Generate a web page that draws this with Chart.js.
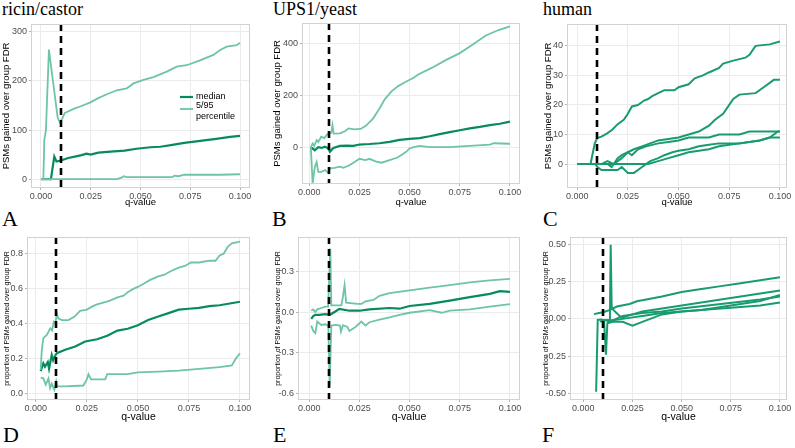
<!DOCTYPE html>
<html>
<head>
<meta charset="utf-8">
<script src="https://cdn.jsdelivr.net/npm/chart.js@4"></script>
<style>
body { margin: 0; width: 795px; height: 448px; background: #fff; position: relative; overflow: hidden; }
.ttl { position: absolute; font-family: "Liberation Serif", serif; font-size: 18px; line-height: 1; color: #000; }
.lab { position: absolute; font-family: "Liberation Serif", serif; font-size: 22px; line-height: 1; color: #000; }
</style>
</head>
<body>
<div class="ttl" style="left:2px;top:0px">ricin/castor</div>
<div class="ttl" style="left:273px;top:0px">UPS1/yeast</div>
<div class="ttl" style="left:543px;top:0px">human</div>
<div class="lab" style="left:2px;top:208px">A</div>
<div class="lab" style="left:272px;top:208px">B</div>
<div class="lab" style="left:543px;top:208px">C</div>
<div class="lab" style="left:3px;top:424px">D</div>
<div class="lab" style="left:273px;top:424px">E</div>
<div class="lab" style="left:542px;top:424px">F</div>
<script>
// q-value cutoff (dashed line) and shared x ticks
var cutoff = 0.01;
var xTicks = [0, 0.025, 0.05, 0.075, 0.1];
var xLabels = ['0.000', '0.025', '0.050', '0.075', '0.100'];
var legendLabels = ['median', '5/95', 'percentile'];

// A: ricin/castor, PSMs gained
var aQ_up = [0, 0.0012, 0.0017, 0.0025, 0.0040, 0.0084, 0.0095, 0.0105, 0.012, 0.017, 0.0197, 0.0246, 0.0288, 0.0331, 0.0381, 0.0431, 0.0465, 0.0515, 0.0565, 0.0632, 0.0682, 0.0732, 0.0799, 0.0866, 0.09, 0.0933, 0.0983, 0.1];
var aV_up = [0, 0, 80, 100, 264, 125, 116, 122, 135, 144, 148, 156, 165, 173, 181, 185, 195, 202, 208, 219, 229, 232, 242, 253, 263, 270, 273, 278];
var aQ_med = [0, 0.0050, 0.0067, 0.0078, 0.0100, 0.0137, 0.0170, 0.0204, 0.0229, 0.0250, 0.0288, 0.035, 0.042, 0.048, 0.055, 0.060, 0.066, 0.072, 0.080, 0.088, 0.095, 0.1];
var aV_med = [0, 0, 46, 36, 38, 43, 46, 49, 52, 50, 54, 56, 58, 62, 65, 66, 70, 74, 78, 82, 86, 88];
var aQ_lo = [0, 0.038, 0.0405, 0.0415, 0.043, 0.066, 0.067, 0.069, 0.072, 0.09, 0.1];
var aV_lo = [0, 0, 3, 6, 4, 4, 7, 6, 9, 9, 10];
var aTicks = [0, 100, 200, 300];
var aLabels = ['0', '100', '200', '300'];

// B: UPS1/yeast, PSMs gained
var bQ_up = [0.0008, 0.0017, 0.0025, 0.0037, 0.0045, 0.0060, 0.0075, 0.0090, 0.0100, 0.0110, 0.0116, 0.0122, 0.0153, 0.0180, 0.0195, 0.0225, 0.0256, 0.0282, 0.0318, 0.0350, 0.0377, 0.041, 0.0443, 0.0477, 0.0522, 0.0543, 0.0610, 0.0680, 0.0750, 0.0815, 0.0880, 0.0940, 0.1];
var bV_up = [0, 14, 5, 27, 20, 40, 35, 50, 53, 55, 85, 52, 53, 62, 72, 68, 70, 82, 110, 149, 185, 215, 235, 250, 268, 280, 305, 335, 362, 395, 430, 450, 465];
var bQ_med = [0.0008, 0.0028, 0.0045, 0.0062, 0.0078, 0.0095, 0.0103, 0.0120, 0.0153, 0.0186, 0.0220, 0.025, 0.030, 0.035, 0.040, 0.045, 0.050, 0.055, 0.060, 0.065, 0.070, 0.075, 0.080, 0.085, 0.090, 0.095, 0.1];
var bV_med = [0, -12, 0, -3, 2, -5, -18, -3, 5, 6, 5, 10, 12, 15, 20, 28, 32, 35, 42, 50, 58, 65, 72, 78, 85, 90, 98];
var bQ_lo = [0.0008, 0.0017, 0.0028, 0.0037, 0.0045, 0.0060, 0.0080, 0.0095, 0.0103, 0.0125, 0.0153, 0.0170, 0.0200, 0.0230, 0.0250, 0.0280, 0.0300, 0.0330, 0.0360, 0.0400, 0.0440, 0.0480, 0.0500, 0.0520, 0.0550, 0.0600, 0.0700, 0.0800, 0.0900, 0.0920, 0.1];
var bV_lo = [0, -140, -76, -57, -95, -95, -88, -100, -82, -80, -75, -80, -70, -55, -45, -50, -45, -55, -60, -50, -40, -20, -5, 0, 5, 0, 0, 5, 10, 15, 13];
var bTicks = [0, 200, 400];
var bLabels = ['0', '200', '400'];

// C: human, PSMs gained (individual runs)
var cQ1 = [0, 0.0066, 0.0087, 0.0099, 0.0120, 0.0148, 0.0173, 0.020, 0.023, 0.025, 0.027, 0.030, 0.033, 0.035, 0.037, 0.040, 0.043, 0.048, 0.050, 0.055, 0.058, 0.062, 0.065, 0.070, 0.072, 0.077, 0.083, 0.085, 0.088, 0.095, 0.1];
var cV1 = [0, 0, 7, 8.8, 9.3, 10.4, 11.6, 13.5, 15, 17, 19.5, 20, 21.5, 22, 23, 24, 25, 25, 26, 27, 29, 30, 31, 32.5, 34, 35, 36, 37, 40, 40.5, 41.5];
var cQ2 = [0, 0.015, 0.017, 0.020, 0.022, 0.025, 0.028, 0.032, 0.036, 0.040, 0.045, 0.050, 0.055, 0.060, 0.065, 0.068, 0.072, 0.077, 0.080, 0.088, 0.092, 0.097, 0.1];
var cV2 = [0, 0, -1, 2, 3, 4, 5, 6, 7, 8, 8.5, 9, 10, 11, 13, 15, 17, 22, 23.5, 24, 26, 28.5, 28.5];
var cQ3 = [0, 0.012, 0.015, 0.018, 0.022, 0.025, 0.027, 0.030, 0.034, 0.040, 0.045, 0.050, 0.055, 0.065, 0.070, 0.080, 0.085, 0.1];
var cV3 = [0, 0, 1, 0, 2, 4, 3, 5, 6, 7, 7.5, 8, 9, 9, 10, 10, 11, 11];
var cQ4 = [0, 0.009, 0.010, 0.012, 0.020, 0.022, 0.025, 0.028, 0.030, 0.032, 0.036, 0.040, 0.043, 0.047, 0.050, 0.055, 0.060, 0.065, 0.070, 0.080, 0.090, 0.095, 0.1];
var cV4 = [0, 0, -1, -2, -2, -1, -3, -3, -2, -1, 1, 2, 3, 4, 4.5, 5, 6, 6.5, 7, 7, 8, 9, 9];
var cQ5 = [0, 0.035, 0.040, 0.045, 0.050, 0.055, 0.060, 0.065, 0.070, 0.080, 0.090, 0.095, 0.099, 0.1];
var cV5 = [0, 0, 1, 2, 3, 4, 4.5, 5, 6, 7, 8, 9, 11, 11];
var cTicks = [0, 10, 20, 30, 40];
var cLabels = ['0', '10', '20', '30', '40'];

// D: ricin/castor, proportion gained
var dQ_up = [0.0024, 0.0029, 0.0037, 0.0054, 0.0071, 0.0080, 0.0088, 0.0096, 0.0103, 0.0110, 0.0127, 0.0160, 0.0190, 0.0217, 0.025, 0.028, 0.030, 0.033, 0.036, 0.040, 0.043, 0.045, 0.048, 0.050, 0.053, 0.056, 0.060, 0.063, 0.066, 0.070, 0.073, 0.076, 0.080, 0.085, 0.088, 0.090, 0.092, 0.094, 0.096, 0.1];
var dV_up = [0.134, 0.24, 0.316, 0.335, 0.373, 0.36, 0.41, 0.40, 0.46, 0.43, 0.42, 0.42, 0.44, 0.473, 0.48, 0.50, 0.51, 0.52, 0.53, 0.55, 0.56, 0.58, 0.60, 0.61, 0.63, 0.65, 0.67, 0.68, 0.70, 0.72, 0.73, 0.75, 0.75, 0.76, 0.76, 0.79, 0.80, 0.84, 0.86, 0.87];
var dQ_med = [0.0024, 0.0037, 0.0045, 0.0059, 0.0065, 0.0078, 0.0085, 0.0092, 0.0103, 0.0144, 0.0193, 0.0242, 0.030, 0.035, 0.040, 0.045, 0.050, 0.055, 0.060, 0.065, 0.070, 0.075, 0.080, 0.085, 0.090, 0.095, 0.1];
var dV_med = [0.128, 0.172, 0.153, 0.18, 0.142, 0.22, 0.19, 0.21, 0.23, 0.25, 0.268, 0.297, 0.31, 0.33, 0.36, 0.37, 0.39, 0.42, 0.44, 0.46, 0.48, 0.485, 0.49, 0.50, 0.505, 0.515, 0.525];
var dQ_lo = [0.0024, 0.0037, 0.0049, 0.0062, 0.0070, 0.0078, 0.0091, 0.0100, 0.0106, 0.0144, 0.0233, 0.0250, 0.0258, 0.0270, 0.0340, 0.0350, 0.045, 0.050, 0.060, 0.070, 0.080, 0.090, 0.096, 0.098, 0.1];
var dV_lo = [0.09, 0.086, 0.05, 0.086, 0.03, 0.055, 0.02, 0.07, 0.04, 0.04, 0.045, 0.08, 0.11, 0.08, 0.08, 0.11, 0.11, 0.12, 0.125, 0.13, 0.14, 0.15, 0.16, 0.2, 0.23];
var dTicks = [0, 0.2, 0.4, 0.6, 0.8];
var dLabels = ['0.0', '0.2', '0.4', '0.6', '0.8'];

// E: UPS1/yeast, proportion gained
var eQ_up = [0.0010, 0.0020, 0.0030, 0.0040, 0.0060, 0.0080, 0.0094, 0.0105, 0.0110, 0.0160, 0.0168, 0.0176, 0.0184, 0.0240, 0.0260, 0.0280, 0.0320, 0.0350, 0.040, 0.050, 0.060, 0.070, 0.080, 0.090, 0.1];
var eV_up = [0.01, 0.02, 0.0, 0.02, 0.03, 0.04, 0.04, 0.47, 0.05, 0.05, 0.115, 0.2, 0.07, 0.06, 0.06, 0.08, 0.09, 0.12, 0.14, 0.16, 0.18, 0.20, 0.22, 0.235, 0.245];
var eQ_med = [0.0010, 0.0020, 0.0030, 0.0050, 0.0080, 0.0103, 0.0130, 0.0150, 0.020, 0.025, 0.030, 0.040, 0.045, 0.050, 0.060, 0.070, 0.080, 0.090, 0.095, 0.1];
var eV_med = [-0.05, -0.03, -0.02, -0.02, -0.015, -0.02, 0.004, 0.024, 0.01, 0.01, 0.02, 0.03, 0.025, 0.045, 0.06, 0.085, 0.11, 0.135, 0.155, 0.15];
var eQ_lo = [0.0010, 0.0020, 0.0030, 0.0040, 0.0060, 0.0080, 0.0095, 0.0102, 0.0110, 0.0130, 0.0153, 0.0158, 0.0168, 0.0190, 0.0200, 0.0230, 0.0260, 0.0280, 0.0300, 0.0350, 0.0400, 0.0450, 0.0500, 0.0600, 0.0660, 0.0700, 0.0800, 0.0900, 0.1];
var eV_lo = [-0.10, -0.14, -0.155, -0.07, -0.095, -0.09, -0.10, -0.55, -0.10, -0.095, -0.10, -0.144, -0.097, -0.11, -0.14, -0.11, -0.07, -0.10, -0.075, -0.055, -0.04, -0.02, -0.005, 0.015, -0.005, 0.01, 0.02, 0.04, 0.058];
var eTicks = [-0.6, -0.3, 0, 0.3];
var eLabels = ['-0.6', '-0.3', '0.0', '0.3'];

// F: human, proportion gained (individual runs)
var fQ1 = [0.0054, 0.0080, 0.0100, 0.0137, 0.0170, 0.0235, 0.0276, 0.030, 0.040, 0.050, 0.060, 0.070, 0.080, 0.090, 0.1];
var fV1 = [0.032, 0.04, 0.045, 0.06, 0.083, 0.10, 0.12, 0.125, 0.15, 0.18, 0.20, 0.22, 0.24, 0.26, 0.28];
var fQ2 = [0.0065, 0.0073, 0.0090, 0.0110, 0.0135, 0.0139, 0.0144, 0.0153, 0.0161, 0.0187, 0.020, 0.025, 0.030, 0.040, 0.050, 0.060, 0.070, 0.080, 0.090, 0.1];
var fV2 = [-0.49, -0.007, -0.005, -0.01, -0.01, 0.498, 0.083, 0.06, 0.05, 0.016, 0.01, 0.03, 0.05, 0.07, 0.09, 0.11, 0.13, 0.15, 0.17, 0.19];
var fQ3 = [0.0105, 0.0115, 0.0122, 0.015, 0.020, 0.025, 0.030, 0.040, 0.050, 0.060, 0.070, 0.080, 0.090, 0.1];
var fV3 = [-0.01, -0.24, -0.03, -0.02, -0.02, -0.045, -0.02, 0.03, 0.05, 0.06, 0.08, 0.10, 0.12, 0.16];
var fQ4 = [0.0085, 0.010, 0.015, 0.020, 0.025, 0.030, 0.040, 0.050, 0.060, 0.070, 0.080, 0.090, 0.1];
var fV4 = [-0.02, -0.01, -0.01, 0.0, 0.01, 0.02, 0.04, 0.05, 0.06, 0.07, 0.08, 0.09, 0.11];
var fQ5 = [0.012, 0.015, 0.020, 0.030, 0.040, 0.050, 0.070, 0.090, 0.1];
var fV5 = [-0.02, -0.01, 0.02, 0.04, 0.05, 0.07, 0.10, 0.13, 0.15];
var fTicks = [-0.5, -0.25, 0, 0.25, 0.5];
var fLabels = ['-0.50', '-0.25', '0.00', '0.25', '0.50'];

var dark = '#078b5e';
var light = '#6dc5a3';
var mid = '#189b70';
var sans = '"Liberation Sans", Arial, sans-serif';

function line(q, v, color, w) {
    return {
        data: q.map(function (x, i) { return { x: x, y: v[i] }; }),
        borderColor: color,
        borderWidth: w,
        pointRadius: 0,
        tension: 0,
        fill: false
    };
}

// dashed cutoff line + panel border
var frame = {
    id: 'frame',
    afterDatasetsDraw: function (chart) {
        var a = chart.chartArea, ctx = chart.ctx;
        var px = Math.round(chart.scales.x.getPixelForValue(cutoff));
        ctx.save();
        ctx.strokeStyle = '#000';
        ctx.lineWidth = 2.6;
        ctx.setLineDash([7, 5]);
        ctx.beginPath();
        ctx.moveTo(px, a.top);
        ctx.lineTo(px, a.bottom);
        ctx.stroke();
        ctx.restore();
        ctx.save();
        ctx.strokeStyle = '#d2d2d2';
        ctx.lineWidth = 1;
        ctx.strokeRect(a.left + 0.5, a.top + 0.5, a.width - 1, a.height - 1);
        ctx.restore();
    }
};

// legend inside panel A
var keyA = {
    id: 'keyA',
    afterDraw: function (chart) {
        var ctx = chart.ctx;
        ctx.save();
        ctx.lineWidth = 2.2;
        ctx.strokeStyle = dark;
        ctx.beginPath(); ctx.moveTo(179, 81); ctx.lineTo(192, 81); ctx.stroke();
        ctx.lineWidth = 1.8;
        ctx.strokeStyle = light;
        ctx.beginPath(); ctx.moveTo(179, 93); ctx.lineTo(192, 93); ctx.stroke();
        ctx.fillStyle = '#000';
        ctx.font = '9px ' + sans;
        ctx.textBaseline = 'middle';
        ctx.fillText(legendLabels[0], 195, 81);
        ctx.fillText(legendLabels[1], 195, 89.5);
        ctx.fillText(legendLabels[2], 195, 101);
        ctx.restore();
    }
};

function makePanel(p) {
    var cv = document.createElement('canvas');
    cv.width = p.w;
    cv.height = p.h;
    cv.style.position = 'absolute';
    cv.style.left = p.left + 'px';
    cv.style.top = p.top + 'px';
    document.body.appendChild(cv);
    new Chart(cv.getContext('2d'), {
        type: 'line',
        data: { datasets: p.series },
        options: {
            responsive: false,
            animation: false,
            devicePixelRatio: 1,
            layout: { padding: { left: 0, top: 8, right: p.padR, bottom: 0 } },
            plugins: { legend: { display: false }, tooltip: { enabled: false } },
            scales: {
                x: {
                    type: 'linear',
                    min: p.xMin,
                    max: p.xMax,
                    afterBuildTicks: function (s) { s.ticks = xTicks.map(function (v) { return { value: v }; }); },
                    afterFit: function (s) { s.height = p.xH; },
                    ticks: {
                        callback: function (v, i) { return xLabels[i]; },
                        autoSkip: false, maxRotation: 0, padding: 1,
                        color: '#4d4d4d', font: { size: 9, family: sans }
                    },
                    grid: { color: '#ebebeb', tickColor: '#b3b3b3', tickLength: 2 },
                    border: { display: false },
                    title: { display: true, text: 'q-value', padding: 0, color: '#000', font: { size: p.xtSize, family: sans } }
                },
                y: {
                    type: 'linear',
                    min: p.yMin,
                    max: p.yMax,
                    afterBuildTicks: function (s) { s.ticks = p.yTicks.map(function (v) { return { value: v }; }); },
                    afterFit: function (s) { s.width = p.yW; },
                    ticks: {
                        callback: function (v, i) { return p.yLabels[i]; },
                        autoSkip: false, padding: 2,
                        color: '#4d4d4d', font: { size: 9, family: sans }
                    },
                    grid: { color: '#ebebeb', tickColor: '#b3b3b3', tickLength: 2 },
                    border: { display: false },
                    title: { display: true, text: p.yTitle, padding: 0, color: '#000', font: { size: p.ytSize, family: sans } }
                }
            }
        },
        plugins: [frame].concat(p.extra || [])
    });
}

var topTitle = 'PSMs gained over group FDR';
var botTitle = 'proportion of PSMs gained over group FDR';

makePanel({
    left: 1, top: 16, w: 263, h: 192, yW: 30, xH: 20, padR: 14,
    xMin: -0.005, xMax: 0.105, yMin: -18, yMax: 316,
    yTicks: aTicks, yLabels: aLabels, yTitle: topTitle, ytSize: 9.5, xtSize: 9.5,
    series: [line(aQ_lo, aV_lo, light, 1.8), line(aQ_up, aV_up, light, 1.8), line(aQ_med, aV_med, dark, 2.2)],
    extra: [keyA]
});
makePanel({
    left: 272, top: 15, w: 262, h: 193, yW: 30, xH: 24, padR: 14,
    xMin: -0.0036, xMax: 0.105, yMin: -142, yMax: 478,
    yTicks: bTicks, yLabels: bLabels, yTitle: topTitle, ytSize: 9.5, xtSize: 9.5,
    series: [line(bQ_lo, bV_lo, light, 1.8), line(bQ_up, bV_up, light, 1.8), line(bQ_med, bV_med, dark, 2.2)]
});
makePanel({
    left: 543, top: 16, w: 252, h: 192, yW: 24, xH: 20, padR: 8,
    xMin: -0.005, xMax: 0.1035, yMin: -8.1, yMax: 47.4,
    yTicks: cTicks, yLabels: cLabels, yTitle: topTitle, ytSize: 9.5, xtSize: 9.5,
    series: [line(cQ5, cV5, mid, 2), line(cQ4, cV4, mid, 2), line(cQ3, cV3, mid, 2), line(cQ2, cV2, mid, 2), line(cQ1, cV1, mid, 2)]
});
makePanel({
    left: 3, top: 229, w: 261, h: 194, yW: 24, xH: 23, padR: 14,
    xMin: -0.0043, xMax: 0.1049, yMin: -0.038, yMax: 0.896,
    yTicks: dTicks, yLabels: dLabels, yTitle: botTitle, ytSize: 7, xtSize: 10.5,
    series: [line(dQ_lo, dV_lo, light, 1.8), line(dQ_up, dV_up, light, 1.8), line(dQ_med, dV_med, dark, 2.2)]
});
makePanel({
    left: 274, top: 229, w: 260, h: 194, yW: 24, xH: 23, padR: 14,
    xMin: -0.0056, xMax: 0.105, yMin: -0.65, yMax: 0.555,
    yTicks: eTicks, yLabels: eLabels, yTitle: botTitle, ytSize: 7, xtSize: 10.5,
    series: [line(eQ_lo, eV_lo, light, 1.8), line(eQ_up, eV_up, light, 1.8), line(eQ_med, eV_med, dark, 2.2)]
});
makePanel({
    left: 542, top: 229, w: 253, h: 194, yW: 28, xH: 23, padR: 8,
    xMin: -0.0068, xMax: 0.1036, yMin: -0.545, yMax: 0.55,
    yTicks: fTicks, yLabels: fLabels, yTitle: botTitle, ytSize: 7, xtSize: 10.5,
    series: [line(fQ5, fV5, mid, 2), line(fQ4, fV4, mid, 2), line(fQ3, fV3, mid, 2), line(fQ2, fV2, mid, 2), line(fQ1, fV1, mid, 2)]
});
</script>
</body>
</html>
